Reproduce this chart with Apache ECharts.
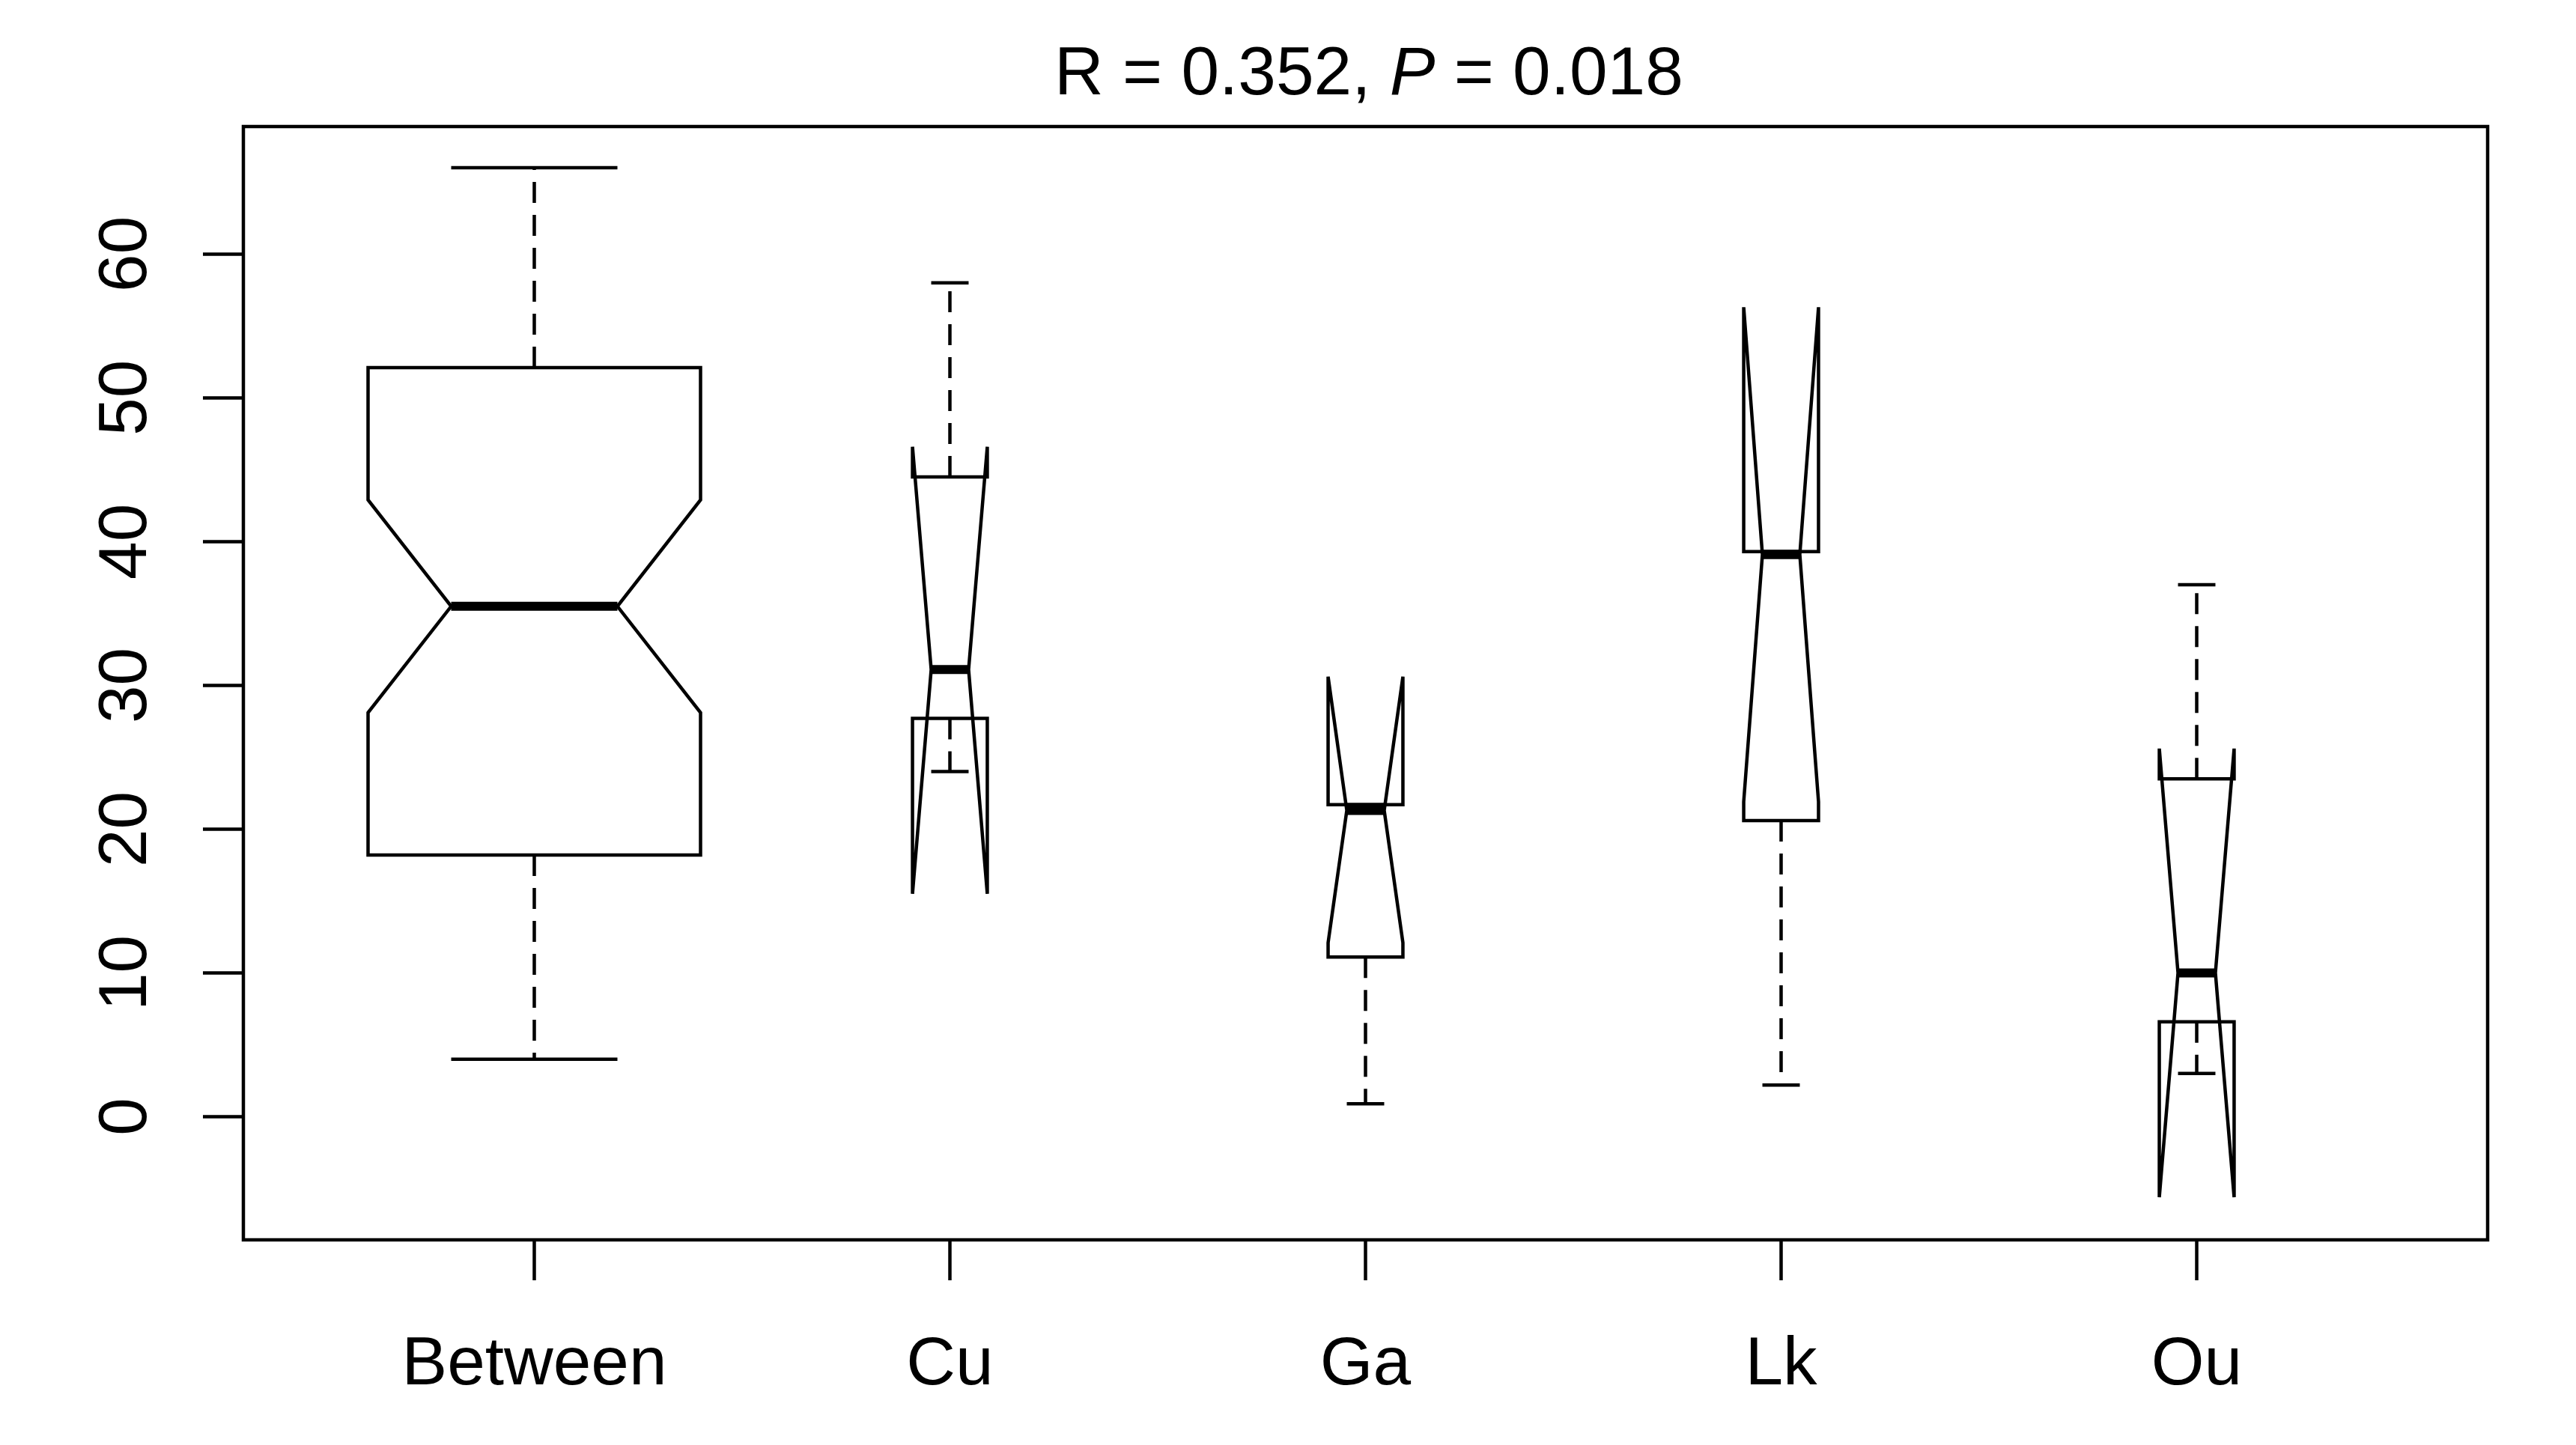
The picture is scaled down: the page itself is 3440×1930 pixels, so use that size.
<!DOCTYPE html>
<html>
<head>
<meta charset="utf-8">
<script src="https://cdn.jsdelivr.net/npm/echarts@6/dist/echarts.min.js"></script>
<style>
  html, body { margin: 0; padding: 0; background: #fff; }
  #chart { width: 3440px; height: 1930px; }
</style>
</head>
<body>
<div id="chart"></div>
<script>
// notched boxplot values
const categories = ['Between', 'Cu', 'Ga', 'Lk', 'Ou']
const lowerWhisker = [4.0, 24.0, 0.9, 2.2, 3.0]
const q1 = [18.2, 27.7, 11.1, 20.6, 6.6]
const median = [35.5, 31.1, 21.3, 39.1, 10.0]
const q3 = [52.1, 44.5, 21.7, 39.3, 23.5]
const upperWhisker = [66.0, 58.0, 21.7, 39.3, 37.0]
const notchLow = [28.1, 15.5, 12.1, 21.9, -5.6]
const notchHigh = [42.9, 46.6, 30.6, 56.3, 25.6]
const boxWidth = [0.8, 0.18, 0.18, 0.18, 0.18]
const yTicks = [0, 10, 20, 30, 40, 50, 60]
const xTicks = [1, 2, 3, 4, 5]

const FONT = '"Liberation Sans", Arial, sans-serif'
const LW = 4.5

function renderItem(params, api) {
  const i = params.dataIndex
  const c = i + 1
  const w = boxWidth[i] / 2
  const pt = (x, y) => api.coord([x, y])
  const poly = [
    pt(c - w, q1[i]), pt(c + w, q1[i]), pt(c + w, notchLow[i]),
    pt(c + w * 0.5, median[i]), pt(c + w, notchHigh[i]), pt(c + w, q3[i]),
    pt(c - w, q3[i]), pt(c - w, notchHigh[i]), pt(c - w * 0.5, median[i]),
    pt(c - w, notchLow[i])
  ]
  const seg = (a, b, style) => ({
    type: 'line',
    shape: { x1: a[0], y1: a[1], x2: b[0], y2: b[1] },
    style: style
  })
  const solid = { stroke: '#000', lineWidth: LW }
  const dashed = { stroke: '#000', lineWidth: LW, lineDash: [28, 16] }
  return {
    type: 'group',
    children: [
      { type: 'polygon', shape: { points: poly }, style: { fill: 'none', stroke: '#000', lineWidth: LW, lineJoin: 'miter' } },
      seg(pt(c, q3[i]), pt(c, upperWhisker[i]), dashed),
      seg(pt(c, q1[i]), pt(c, lowerWhisker[i]), dashed),
      seg(pt(c - w * 0.5, upperWhisker[i]), pt(c + w * 0.5, upperWhisker[i]), solid),
      seg(pt(c - w * 0.5, lowerWhisker[i]), pt(c + w * 0.5, lowerWhisker[i]), solid),
      seg(pt(c - w * 0.5, median[i]), pt(c + w * 0.5, median[i]), { stroke: '#000', lineWidth: 12 })
    ]
  }
}

const chart = echarts.init(document.getElementById('chart'), null, { renderer: 'canvas' })
chart.setOption({
  backgroundColor: '#fff',
  animation: false,
  title: {
    text: '{a|R = 0.352, }{b|P}{a| = 0.018}',
    left: 1408,
    top: 55,
    padding: 0,
    textStyle: {
      rich: {
        a: { fontFamily: FONT, fontSize: 91, color: '#000', fontWeight: 'normal' },
        b: { fontFamily: FONT, fontSize: 91, color: '#000', fontWeight: 'normal', fontStyle: 'italic' }
      }
    }
  },
  grid: {
    left: 325, top: 169, width: 2997, height: 1487,
    show: true, borderColor: '#000', borderWidth: LW, backgroundColor: 'transparent'
  },
  xAxis: {
    type: 'value',
    min: 0.3,
    max: 5.7,
    axisLine: { show: false, onZero: false },
    splitLine: { show: false },
    axisTick: { show: true, customValues: xTicks, length: 54, lineStyle: { color: '#000', width: LW } },
    axisLabel: {
      customValues: xTicks,
      formatter: v => categories[Math.round(v) - 1],
      fontFamily: FONT, fontSize: 91, color: '#000', margin: 122
    }
  },
  yAxis: {
    type: 'value',
    min: -8.57,
    max: 68.87,
    axisLine: { show: false, onZero: false },
    splitLine: { show: false },
    axisTick: { show: true, customValues: yTicks, length: 54, lineStyle: { color: '#000', width: LW } },
    axisLabel: {
      customValues: yTicks,
      rotate: 90,
      fontFamily: FONT, fontSize: 91, color: '#000', margin: 110
    }
  },
  series: [{
    type: 'custom',
    renderItem: renderItem,
    data: categories.map((_, i) => [i + 1, median[i]]),
    encode: { x: 0, y: 1 },
    clip: false
  }]
})
</script>
</body>
</html>
